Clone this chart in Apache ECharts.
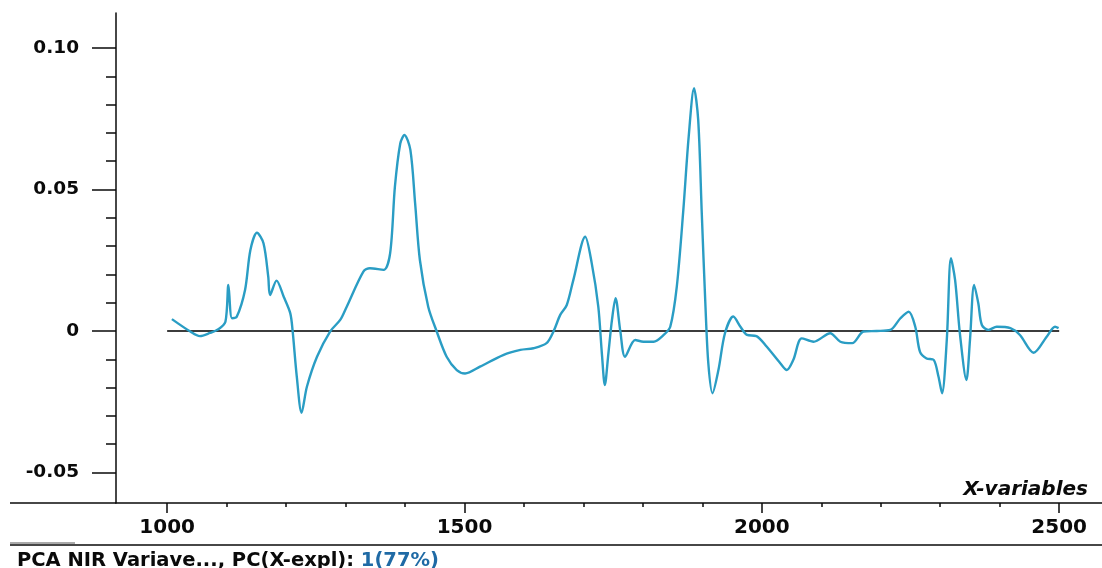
<!DOCTYPE html>
<html>
<head>
<meta charset="utf-8">
<script src="https://cdn.jsdelivr.net/npm/echarts@6/dist/echarts.min.js"></script>
<style>html,body{margin:0;padding:0;background:#fff;}#c{width:1102px;height:568px;}</style>
</head>
<body>
<div id="c"></div>
<script>
// ---- data ----
const wavelengths = [1008,1039,1055,1072,1086,1098,1103,1109,1117,1131,
  1140,1151,1162,1170,1173,1184,1196,1207,1211,1218,
  1226,1235,1252,1274,1291,1302,1330,1341,1364,1375,
  1383,1392,1399,1409,1417,1425,1439,1453,1470,1487,
  1501,1526,1565,1594,1616,1638,1650,1661,1672,1683,
  1703,1714,1725,1731,1736,1742,1748,1754,1762,1770,
  1787,1801,1818,1835,1846,1857,1868,1877,1886,1893,
  1899,1905,1910,1917,1927,1938,1952,1964,1975,1991,
  2008,2031,2042,2053,2067,2087,2115,2132,2152,2171,
  2193,2216,2233,2247,2258,2266,2277,2289,2297,2303,
  2311,2318,2325,2333,2344,2350,2357,2364,2370,2381,
  2395,2418,2434,2457,2479,2493,2499];
const loadings = [0.0042,-0.0002,-0.0018,-0.0007,0.0006,0.0033,0.0163,0.0045,0.005,0.0145,
  0.0286,0.0347,0.031,0.0192,0.0127,0.0178,0.0121,0.0063,0.0,-0.0161,
  -0.0289,-0.0197,-0.0091,-0.0002,0.0039,0.0086,0.021,0.0222,0.0216,0.0275,
  0.051,0.0663,0.0693,0.064,0.0451,0.0251,0.0086,0.0,-0.0091,-0.0138,
  -0.015,-0.0126,-0.0085,-0.0067,-0.0061,-0.0043,0.0,0.0057,0.0092,0.018,
  0.0333,0.0239,0.0086,-0.0079,-0.0191,-0.0079,0.0039,0.0116,0.0,-0.0091,
  -0.0032,-0.0038,-0.0038,-0.0014,0.0015,0.0157,0.0428,0.0687,0.0858,0.0746,
  0.0416,0.0098,-0.0114,-0.022,-0.0138,-0.0008,0.0051,0.0015,-0.0014,-0.0018,
  -0.0055,-0.0114,-0.0138,-0.0102,-0.0026,-0.0038,-0.0008,-0.0038,-0.0043,-0.0002,
  0.0,0.0004,0.0045,0.0068,0.0015,-0.0074,-0.0097,-0.0102,-0.0161,-0.022,
  -0.0032,0.0257,0.018,-0.0008,-0.0173,-0.0032,0.0163,0.0098,0.0021,0.0004,
  0.0015,0.001,-0.0014,-0.0077,-0.002,0.0015,0.001];
const zeroLineX = [1000, 2500];
const zeroLineY = [0, 0];
const xMajorTicks = [1000, 1500, 2000, 2500];
const xTickLabels = ['1000', '1500', '2000', '2500'];
const xMinorTicks = [1100,1200,1300,1400,1600,1700,1800,1900,2100,2200,2300,2400];
const yMajorTicks = [-0.05, 0, 0.05, 0.10];
const yTickLabels = ['-0.05', '0', '0.05', '0.10'];
const yMinorTicks = [-0.04,-0.03,-0.02,-0.01,0.01,0.02,0.03,0.04,0.06,0.07,0.08,0.09];
const axisTitle = 'X-variables';
const footerMain = 'PCA NIR Variave..., PC(X-expl): ';
const footerPC = '1(77%)';

const X_MIN = 914, X_MAX = 2572, Y_MIN = -0.0608, Y_MAX = 0.1124;
const FONT = 'DejaVu Sans';
const ink = '#0a0a0a';

function labelFor(v, vals, labels) {
  for (let i = 0; i < vals.length; i++) if (Math.abs(v - vals[i]) < 1e-9) return labels[i];
  return '';
}

const chart = echarts.init(document.getElementById('c'), null, {renderer: 'canvas'});
chart.setOption({
  animation: false,
  backgroundColor: '#fff',
  grid: {left: 116, right: 0, top: 13, bottom: 65, containLabel: false},
  title: {
    text: '{a|' + footerMain + '}{b|' + footerPC + '}',
    left: 17, top: 551, padding: 0,
    textStyle: {
      rich: {
        a: {fontFamily: FONT, fontWeight: 'bold', fontSize: 19.5, color: ink, lineHeight: 19},
        b: {fontFamily: FONT, fontWeight: 'bold', fontSize: 19.5, color: '#1f6aa5', lineHeight: 19}
      }
    }
  },
  xAxis: [{
    type: 'value', min: X_MIN, max: X_MAX, position: 'bottom',
    axisLine: {show: true, onZero: false, lineStyle: {color: ink, width: 1.5}},
    axisTick: {show: true, customValues: xMajorTicks, length: 10, lineStyle: {color: ink, width: 1.5}},
    axisLabel: {show: true, customValues: xMajorTicks, margin: 15,
      formatter: v => labelFor(v, xMajorTicks, xTickLabels),
      fontFamily: FONT, fontWeight: 'bold', fontSize: 20, color: ink},
    splitLine: {show: false}
  }, {
    type: 'value', min: X_MIN, max: X_MAX, position: 'bottom',
    axisLine: {show: false, onZero: false},
    axisTick: {show: true, customValues: xMinorTicks, length: 4, lineStyle: {color: ink, width: 1.5}},
    axisLabel: {show: false},
    splitLine: {show: false}
  }],
  yAxis: [{
    type: 'value', min: Y_MIN, max: Y_MAX, position: 'left',
    axisLine: {show: true, onZero: false, lineStyle: {color: ink, width: 1.5}},
    axisTick: {show: true, customValues: yMajorTicks, length: 24, lineStyle: {color: ink, width: 1.5}},
    axisLabel: {show: true, customValues: yMajorTicks, margin: 37,
      formatter: v => labelFor(v, yMajorTicks, yTickLabels),
      fontFamily: FONT, fontWeight: 'bold', fontSize: 18.5, color: ink},
    splitLine: {show: false}
  }, {
    type: 'value', min: Y_MIN, max: Y_MAX, position: 'left',
    axisLine: {show: false, onZero: false},
    axisTick: {show: true, customValues: yMinorTicks, length: 10, lineStyle: {color: ink, width: 1.5}},
    axisLabel: {show: false},
    splitLine: {show: false}
  }],
  graphic: [
    {type: 'line', shape: {x1: 10, y1: 503, x2: 116, y2: 503}, style: {stroke: ink, lineWidth: 1.5}},
    {type: 'line', shape: {x1: 10, y1: 545, x2: 1102, y2: 545}, style: {stroke: ink, lineWidth: 1.5}},
    {type: 'line', shape: {x1: 10, y1: 543, x2: 75, y2: 543}, style: {stroke: '#555', lineWidth: 1}},
    {type: 'text', right: 14, top: 480,
      style: {text: axisTitle, fontFamily: FONT, fontWeight: 'bold', fontStyle: 'italic', fontSize: 20, fill: ink}}
  ],
  series: [{
    type: 'line', xAxisIndex: 0, yAxisIndex: 0, z: 1,
    data: zeroLineX.map((x, i) => [x, zeroLineY[i]]),
    showSymbol: false, silent: true,
    lineStyle: {color: '#3c3c3c', width: 2}
  }, {
    type: 'line', xAxisIndex: 0, yAxisIndex: 0, z: 2,
    data: wavelengths.map((x, i) => [x, loadings[i]]),
    showSymbol: false, smooth: 0.3,
    lineStyle: {color: '#2a9dc4', width: 2.4}
  }]
});
</script>
</body>
</html>
